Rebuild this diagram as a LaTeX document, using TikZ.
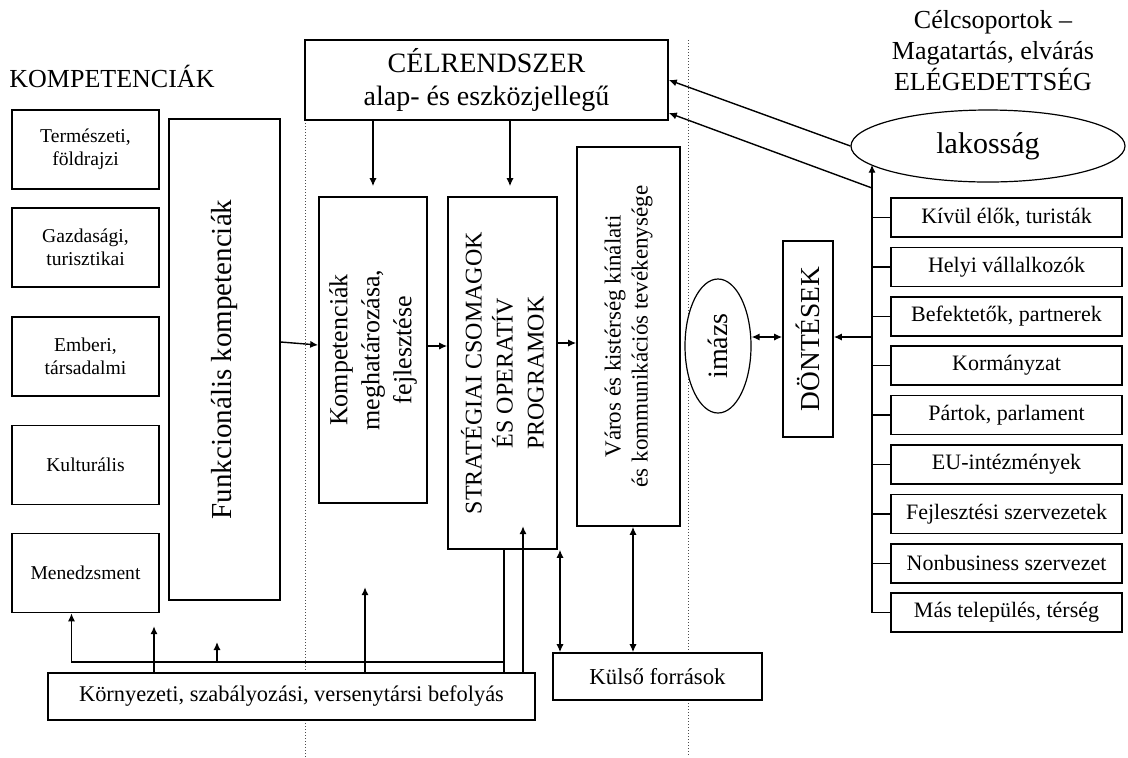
\documentclass[tikz,border=0pt]{standalone}
\usepackage{fontspec}
\setmainfont{Liberation Serif}
\usetikzlibrary{arrows.meta, positioning, shapes.geometric}

\begin{document}
\begin{tikzpicture}[
  x=0.5pt, y=-0.5pt,
  box/.style={draw, fill=white, line width=0.8pt, inner sep=0pt, align=center},
  oval/.style={draw, ellipse, fill=white, line width=0.6pt, inner sep=0pt},
  komp/.style={box, minimum width=73.5pt, minimum height=39.5pt, font=\fontsize{9.8}{11.5}\selectfont},
  grp/.style={box, minimum width=115.5pt, minimum height=19.5pt, font=\fontsize{11}{13}\selectfont},
  vtext/.style={rotate=90, align=center},
  arrow/.style={-{Latex[length=4pt,width=3.6pt]}, line width=0.7pt},
  twoway/.style={{Latex[length=4pt,width=3.6pt]}-{Latex[length=4pt,width=3.6pt]}, line width=0.7pt},
  sep/.style={densely dotted, line width=0.5pt, gray!60!black}
]
\useasboundingbox (0,0) rectangle (1128,757);

% Separators
\draw[sep] (305,120) -- (305,757);
\draw[sep] (688,40) -- (688,757);

% Titles
\node[font=\fontsize{13}{15}\selectfont] (kompt) at (112,76) {KOMPETENCIÁK};
\node[align=center, font=\fontsize{13}{15.5}\selectfont] (celcs) at (993,51) {Célcsoportok –\\Magatartás, elvárás\\ELÉGEDETTSÉG};

% Competences
\node[komp] (ter) at (85.5,149.5) {Természeti,\\földrajzi};
\node[komp] (gaz) at (85.5,247.5) {Gazdasági,\\turisztikai};
\node[komp] (emb) at (85.5,356.5) {Emberi,\\társadalmi};
\node[komp] (kul) at (85.5,465) {Kulturális};
\node[komp] (men) at (85.5,573) {Menedzsment};

% Main column
\node[box, minimum width=55.5pt, minimum height=240.5pt] (funk) at (224.5,359.5) {};
\node[vtext, font=\fontsize{14.5}{17}\selectfont] at (funk) {Funkcionális kompetenciák};
\node[box, minimum width=181.5pt, minimum height=40pt, font=\fontsize{14}{16.5}\selectfont] (cel) at (486.5,80) {CÉLRENDSZER\\alap- és eszközjellegű};
\node[box, minimum width=54pt, minimum height=153pt] (kmf) at (373,350) {};
\node[vtext, font=\fontsize{13}{16}\selectfont] at (kmf) {Kompetenciák\\meghatározása,\\fejlesztése};
\node[box, minimum width=54.5pt, minimum height=176pt] (strat) at (502.5,373) {};
\node[vtext, font=\fontsize{12}{15.5}\selectfont] at (strat) {STRATÉGIAI CSOMAGOK\\ÉS OPERATÍV\\PROGRAMOK};
\node[box, minimum width=51.5pt, minimum height=189.5pt] (varos) at (628.5,336.5) {};
\node[vtext, font=\fontsize{11.5}{13.5}\selectfont] at (varos) {Város és kistérség kínálati\\és kommunikációs tevékenysége};

% Image and decisions
\node[oval, minimum width=33pt, minimum height=67pt] (imazs) at (718,346) {};
\node[vtext, font=\fontsize{14}{16}\selectfont] at (imazs) {imázs};
\node[box, minimum width=25pt, minimum height=98pt] (dont) at (808,339) {};
\node[vtext, font=\fontsize{13.7}{16}\selectfont] at (dont) {DÖNTÉSEK};

% Target groups
\node[oval, minimum width=137pt, minimum height=36pt, font=\fontsize{15}{17}\selectfont] (lak) at (988,146) {lakosság};
\foreach \txt [count=\i] in {{Kívül élők, turisták}, {Helyi vállalkozók}, {Befektetők, partnerek}, Kormányzat, {Pártok, parlament}, EU-intézmények, {Fejlesztési szervezetek}, {Nonbusiness szervezet}, {Más település, térség}}
  \node[grp] (r\i) at (1006.5, 168.1+49.4*\i) {\txt};

% Bottom
\node[box, minimum width=243.5pt, minimum height=23.5pt, font=\fontsize{11.2}{13}\selectfont] (korny) at (291.5,696.5) {Környezeti, szabályozási, versenytársi befolyás};
\node[box, minimum width=104.5pt, minimum height=23.5pt, font=\fontsize{11.4}{13}\selectfont] (kulso) at (657.5,676.5) {Külső források};

% Pointers
\draw[arrow, shorten >=5pt] (cel.south -| kmf.north) -- (kmf.north);
\draw[arrow, shorten >=5pt] ([xshift=3.75pt]strat.north |- cel.south) -- ([xshift=3.75pt]strat.north);
\draw[arrow] (funk.east |- 0,342) -- (kmf.west |- 0,345);
\draw[arrow] (kmf.east |- 0,346) -- (strat.west |- 0,346);
\draw[arrow] (strat.east |- 0,343) -- (varos.west |- 0,343);
\draw[twoway] (imazs.east |- 0,337) -- (dont.west |- 0,337);

\coordinate (brk) at (872,0);
\draw[arrow] (brk |- 0,337) -- (dont.east |- 0,337);
\draw[arrow] (brk |- r9) -- (brk |- lak.189);
\foreach \i in {1,...,9}
  \draw[line width=0.7pt] (brk |- r\i) -- (r\i.west);
\draw[arrow] (lak.west) -- (cel.east |- 0,80);
\draw[arrow] (brk |- 0,188) -- (cel.east |- 0,113);

\coordinate (jn) at (504,662);
\draw[line width=0.7pt] (strat.south -| jn) -- (korny.north -| jn);
\draw[arrow] (jn) -| ([xshift=-7pt]men.south);
\draw[arrow] (korny.north -| 154,0) -- ++(0,-46);
\draw[arrow] (217,662) -- ++(0,-20);
\draw[arrow] (korny.north -| 365,0) -- ++(0,-85);
\draw[arrow] (korny.north -| 523,0) -- ++(0,-146);
\draw[twoway] (strat.south -| 560,0) -- (kulso.north -| 560,0);
\draw[twoway] (varos.south -| 633,0) -- (kulso.north -| 633,0);

\end{tikzpicture}
\end{document}
